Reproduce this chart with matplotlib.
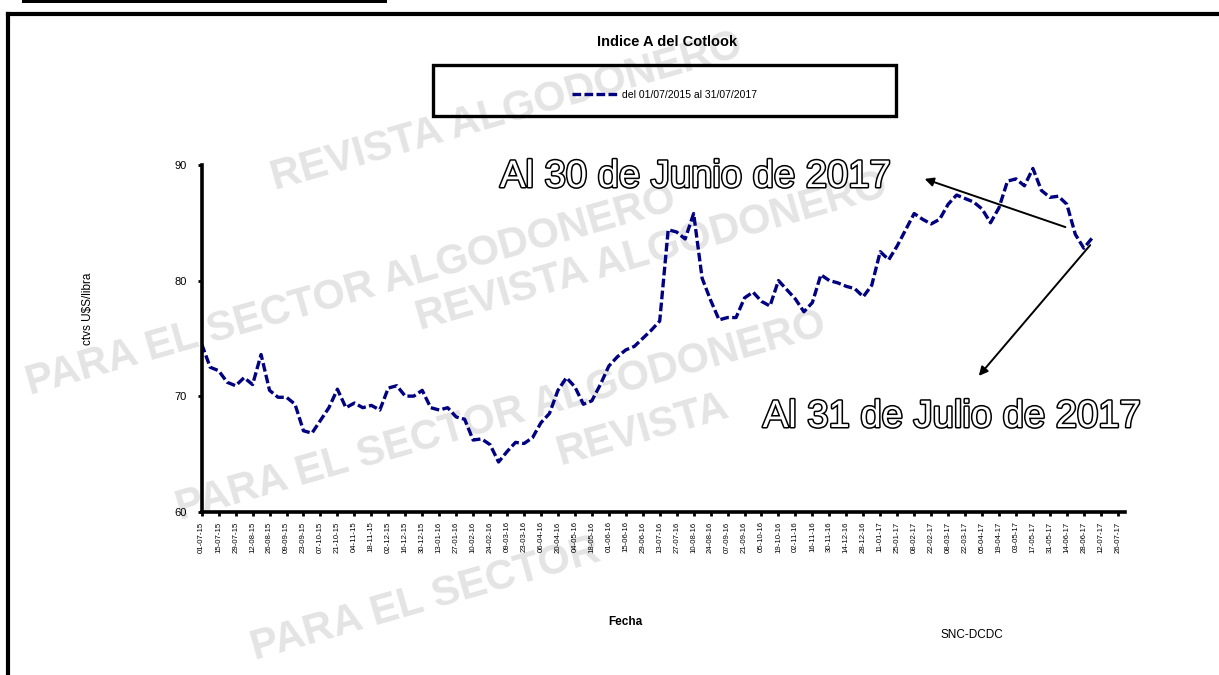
import numpy as np
import pandas as pd
import matplotlib
matplotlib.use("Agg")
import matplotlib.pyplot as plt
from matplotlib.patches import Rectangle, FancyArrowPatch
from matplotlib.lines import Line2D
import matplotlib.patheffects as pe

plt.rcParams['font.family'] = ['Liberation Sans', 'DejaVu Sans']

# ---------------- data (weekly readings of the Cotlook A index) ----------------
start_date = "2015-07-01"
values = [
    74.5, 72.5, 72.2, 71.2, 70.9, 71.6, 71.0, 73.6, 70.5, 69.9,
    69.9, 69.3, 67.0, 66.8, 67.9, 69.0, 70.6, 69.0, 69.4, 69.0,
    69.2, 68.8, 70.7, 70.9, 70.0, 70.0, 70.5, 69.0, 68.8, 69.0,
    68.2, 68.0, 66.2, 66.3, 65.8, 64.3, 65.2, 66.0, 65.9, 66.4,
    67.7, 68.5, 70.5, 71.6, 70.8, 69.3, 69.6, 71.0, 72.6, 73.4,
    74.0, 74.3, 75.0, 75.7, 76.5, 84.4, 84.2, 83.6, 85.8, 80.2,
    78.3, 76.6, 76.8, 76.8, 78.5, 79.0, 78.2, 77.8, 80.0, 79.2,
    78.4, 77.3, 78.1, 80.5, 80.0, 79.8, 79.5, 79.3, 78.6, 79.6,
    82.5, 81.8, 83.0, 84.4, 85.8, 85.3, 84.9, 85.3, 86.6, 87.4,
    87.1, 86.8, 86.2, 85.0, 86.3, 88.6, 88.8, 88.2, 89.7, 87.8,
    87.2, 87.3, 86.6, 84.0, 82.8, 83.7,
]
dates = pd.date_range(start_date, periods=len(values), freq="7D")

tick_dates = pd.date_range("2015-07-01", "2017-07-31", freq="14D")
tick_labels = [d.strftime("%d-%m-%y") for d in tick_dates]
y_ticks = [60, 70, 80, 90]

title = "Indice A del Cotlook"
legend_label = "del 01/07/2015 al 31/07/2017"
y_label = "ctvs U$S/libra"
x_label = "Fecha"
source = "SNC-DCDC"
note_june = "Al 30 de Junio de 2017"
note_july = "Al 31 de Julio de 2017"

# ---------------- figure ----------------
W, H = 1219, 675
fig = plt.figure(figsize=(W / 100, H / 100), dpi=100)
fig.patch.set_facecolor("white")

def fx(px):
    return px / W

def fy(py):
    return 1 - py / H

# watermark
wm_color = "#e4e4e4"
wm_rows = [
    ("REVISTA ALGODONERO", 275, 190),
    ("PARA EL SECTOR ALGODONERO", 30, 395),
    ("REVISTA ALGODONERO", 420, 330),
    ("PARA EL SECTOR ALGODONERO", 180, 520),
    ("REVISTA", 560, 465),
    ("PARA EL SECTOR", 255, 660),
]
for txt, px, py in wm_rows:
    fig.text(fx(px), fy(py), txt, fontsize=30, fontweight="bold", color=wm_color,
             rotation=16, rotation_mode="anchor", ha="left", va="baseline", zorder=-5)

# outer frame
fig.add_artist(Line2D([fx(8), fx(8)], [fy(13.7), fy(H + 5)], color="black", lw=3, solid_capstyle="projecting"))
fig.add_artist(Line2D([fx(8), fx(W + 5)], [fy(13.7), fy(13.7)], color="black", lw=3, solid_capstyle="projecting"))
fig.add_artist(Rectangle((fx(22), fy(3.4)), fx(387) - fx(22), 3.4 / H, transform=fig.transFigure,
                         facecolor="black", edgecolor="none"))

# axes
x0, x1, y0, y1 = 201.7, 1125, 165, 511.7
ax = fig.add_axes([fx(x0), fy(y1), (x1 - x0) / W, (y1 - y0) / H])
ax.patch.set_alpha(0)
line, = ax.plot(dates, values, color="#000080", lw=2.4, dashes=(2.6, 1.0), label=legend_label)
ax.set_xlim(pd.Timestamp("2015-07-01"), pd.Timestamp("2017-08-01"))
ax.set_ylim(60, 90)
ax.set_yticks(y_ticks)
ax.set_xticks(tick_dates)
ax.set_xticklabels(tick_labels, rotation=90, fontsize=5.6)
for s in ["top", "right"]:
    ax.spines[s].set_visible(False)
for s in ["left", "bottom"]:
    ax.spines[s].set_linewidth(2.6)
ax.tick_params(axis="y", length=3, width=2, direction="out", labelsize=8, pad=8)
ax.tick_params(axis="x", length=3, width=2, direction="out", pad=4)

# title / labels
fig.text(fx(667), fy(42), title, fontsize=10.5, fontweight="bold", ha="center", va="center")
fig.text(fx(88), fy(309), y_label, fontsize=8.5, rotation=90, ha="center", va="center")
fig.text(fx(625), fy(622), x_label, fontsize=8.5, fontweight="bold", ha="center", va="center")
fig.text(fx(972), fy(635), source, fontsize=8.5, ha="center", va="center")

# legend box
fig.add_artist(Rectangle((fx(433), fy(116)), (896 - 433) / W, (116 - 65) / H, transform=fig.transFigure,
                         facecolor="none", edgecolor="black", lw=2.4))
fig.legend(handles=[line], loc="center", bbox_to_anchor=(fx(664), fy(95)), frameon=False,
           fontsize=7.5, handlelength=4.6, handletextpad=0.2)

# annotations
outline = [pe.withStroke(linewidth=2.2, foreground="black")]
fig.text(fx(500), fy(187), note_june, fontsize=27.5, color="white", ha="left", va="baseline",
         path_effects=outline, zorder=6)
fig.text(fx(952), fy(427), note_july, fontsize=27.5, color="white", ha="center", va="baseline",
         path_effects=outline, zorder=6)
for (tx, ty), (hx, hy) in [((1068, 228), (922, 178)), ((1092, 243), (977, 378))]:
    fig.add_artist(FancyArrowPatch((fx(tx), fy(ty)), (fx(hx), fy(hy)), transform=fig.transFigure,
                                   arrowstyle="-|>", mutation_scale=13, lw=1.4, color="black", zorder=6))

fig.savefig("out.png", dpi=100)
